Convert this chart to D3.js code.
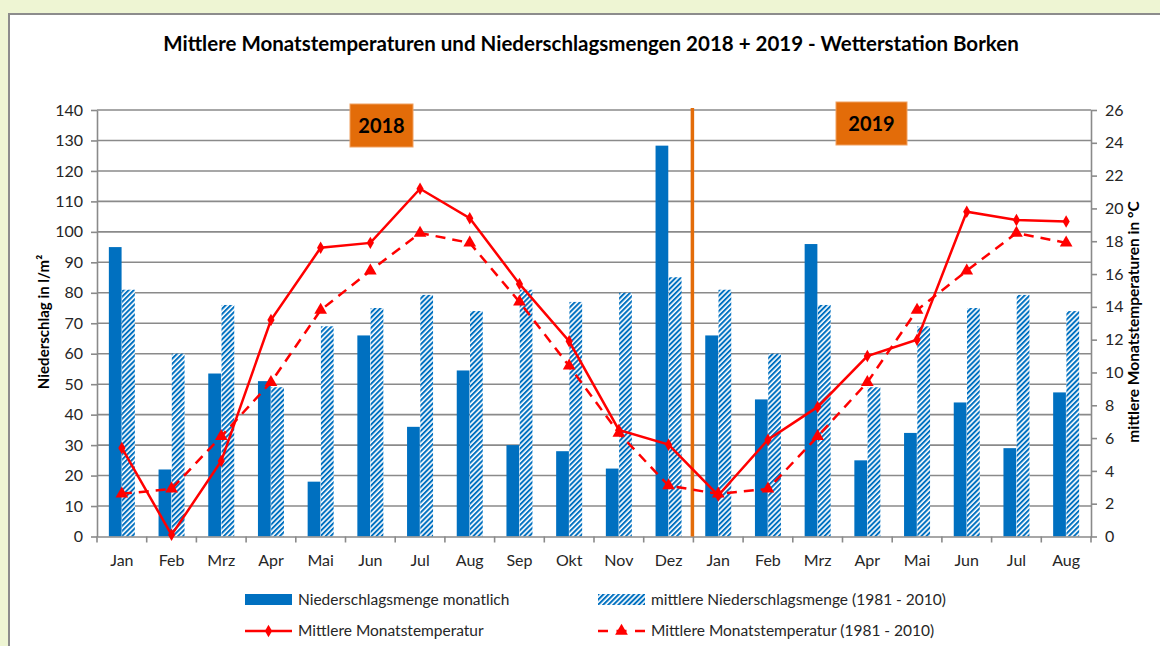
<!DOCTYPE html>
<html>
<head>
<meta charset="utf-8">
<script src="https://cdn.jsdelivr.net/npm/d3@7"></script>
<style>
  body { margin: 0; background: #eef5d3; }
  svg { display: block; font-family: Lato, "Open Sans", sans-serif; }
</style>
</head>
<body>
<svg id="chart"></svg>
<script>
// Monate (Jan 2018 - Aug 2019)
const months = ["Jan", "Feb", "Mrz", "Apr", "Mai", "Jun", "Jul", "Aug", "Sep", "Okt", "Nov", "Dez",
  "Jan", "Feb", "Mrz", "Apr", "Mai", "Jun", "Jul", "Aug"];

// Niederschlag l/m²
const precip = [95, 22, 53.5, 51, 18, 66, 36, 54.5, 30, 28, 22.3, 128.3,
  66, 45, 96, 25, 34, 44, 29, 47.3];
const precipAvg = [81, 60, 76, 49, 69, 75, 79.3, 74, 81, 77, 80, 85.1,
  81, 60, 76, 49, 69, 75, 79.3, 74];

// Temperaturen °C
const temp = [5.4, 0.1, 4.6, 13.2, 17.6, 17.9, 21.2, 19.4, 15.4, 11.9, 6.5, 5.6,
  2.5, 5.9, 7.9, 11.0, 12.0, 19.8, 19.3, 19.2];
const tempAvg = [2.6, 2.9, 6.1, 9.4, 13.8, 16.2, 18.5, 17.9, 14.3, 10.4, 6.3, 3.1,
  2.6, 2.9, 6.1, 9.4, 13.8, 16.2, 18.5, 17.9];

const leftTicks = d3.range(0, 141, 10);
const rightTicks = d3.range(0, 27, 2);

const width = 1160, height = 646;

const svg = d3.select("#chart").attr("width", width).attr("height", height);

// white chart area
svg.append("rect")
  .attr("x", 9).attr("y", 14)
  .attr("width", width + 10).attr("height", height)
  .attr("fill", "#fff")
  .attr("stroke", "#8c8c8c")
  .attr("stroke-width", 2);

// hatch pattern
const defs = svg.append("defs");
const pat = defs.append("pattern")
  .attr("id", "hatch")
  .attr("patternUnits", "userSpaceOnUse")
  .attr("width", 3.6).attr("height", 3.6)
  .attr("patternTransform", "rotate(45)");
pat.append("rect").attr("width", 3.6).attr("height", 3.6).attr("fill", "#fff");
pat.append("rect").attr("width", 2).attr("height", 3.6).attr("fill", "#0070c0");

const x0 = 97, x1 = 1091, yTop = 110, yBot = 536.5;
const idx = months.map((m, i) => i);

const x = d3.scaleBand().domain(idx).range([x0, x1]);
const xInner = d3.scaleBand().domain(["a", "b"]).range([x.bandwidth() / 2 - 13, x.bandwidth() / 2 + 13]).paddingInner(0.04);
const yL = d3.scaleLinear().domain([0, 140]).range([yBot, yTop]);
const yR = d3.scaleLinear().domain([0, 26]).range([yBot, yTop]);

// gridlines
svg.append("g")
  .selectAll("line")
  .data(leftTicks.slice(1))
  .join("line")
  .attr("x1", x0).attr("x2", x1)
  .attr("y1", d => yL(d)).attr("y2", d => yL(d))
  .attr("stroke", "#8a8a8a").attr("stroke-width", 1.6);

// bars
svg.append("g").selectAll("rect")
  .data(idx)
  .join("rect")
  .attr("x", i => x(i) + xInner("a"))
  .attr("y", i => yL(precip[i]))
  .attr("width", xInner.bandwidth())
  .attr("height", i => yBot - yL(precip[i]))
  .attr("fill", "#0070c0");

svg.append("g").selectAll("rect")
  .data(idx)
  .join("rect")
  .attr("x", i => x(i) + xInner("b"))
  .attr("y", i => yL(precipAvg[i]))
  .attr("width", xInner.bandwidth())
  .attr("height", i => yBot - yL(precipAvg[i]))
  .attr("fill", "url(#hatch)");

// axes
const axisStyle = g => {
  g.selectAll(".domain").attr("stroke", "#8a8a8a").attr("stroke-width", 1.6);
  g.selectAll(".tick line").attr("stroke", "#8a8a8a").attr("stroke-width", 1.6);
  g.selectAll("text").attr("fill", "#262626").style("font-size", "16px").style("font-family", "Lato, sans-serif");
};

svg.append("g")
  .attr("transform", `translate(${x0},0)`)
  .call(d3.axisLeft(yL).tickValues(leftTicks).tickSize(6).tickPadding(8).tickSizeOuter(0))
  .call(axisStyle);

svg.append("g")
  .attr("transform", `translate(${x1},0)`)
  .call(d3.axisRight(yR).tickValues(rightTicks).tickSize(6).tickPadding(8).tickSizeOuter(0))
  .call(axisStyle);

const xAxis = svg.append("g")
  .attr("transform", `translate(0,${yBot})`)
  .call(d3.axisBottom(x).tickFormat(i => months[i]).tickSize(0).tickPadding(18).tickSizeOuter(0))
  .call(axisStyle);
// tick marks at category boundaries
xAxis.append("g").selectAll("line")
  .data(d3.range(0, months.length + 1))
  .join("line")
  .attr("x1", i => x0 + i * x.step()).attr("x2", i => x0 + i * x.step())
  .attr("y1", 0).attr("y2", 6)
  .attr("stroke", "#8a8a8a").attr("stroke-width", 1.6);

// year separator
svg.append("line")
  .attr("x1", x(12) - 1).attr("x2", x(12) - 1)
  .attr("y1", 108).attr("y2", yBot)
  .attr("stroke", "#e36c09").attr("stroke-width", 3.5);

// lines
const cx = i => x(i) + x.bandwidth() / 2;
const line = d3.line().x((d, i) => cx(i)).y(d => yR(d));

svg.append("path")
  .datum(tempAvg)
  .attr("d", line)
  .attr("fill", "none")
  .attr("stroke", "#ff0000")
  .attr("stroke-width", 2.5)
  .attr("stroke-dasharray", "10,7");

svg.append("path")
  .datum(temp)
  .attr("d", line)
  .attr("fill", "none")
  .attr("stroke", "#ff0000")
  .attr("stroke-width", 2.5);

const tri = d3.symbol().type(d3.symbolTriangle).size(70);
const dia = d3.symbol().type(d3.symbolDiamond).size(45);

svg.append("g").selectAll("path")
  .data(tempAvg)
  .join("path")
  .attr("d", tri)
  .attr("transform", (d, i) => `translate(${cx(i)},${yR(d)})`)
  .attr("fill", "#ff0000");

svg.append("g").selectAll("path")
  .data(temp)
  .join("path")
  .attr("d", dia)
  .attr("transform", (d, i) => `translate(${cx(i)},${yR(d)})`)
  .attr("fill", "#ff0000");

// year boxes
const years = [{ label: "2018", x: 350, y: 104, w: 63 }, { label: "2019", x: 836, y: 102, w: 71 }];
years.forEach(b => {
  svg.append("rect")
    .attr("x", b.x).attr("y", b.y).attr("width", b.w).attr("height", 43)
    .attr("fill", "#e36c09").attr("stroke", "#f0a060").attr("stroke-width", 1);
  svg.append("text")
    .attr("x", b.x + b.w / 2).attr("y", b.y + 29)
    .attr("text-anchor", "middle")
    .style("font-size", "20px").style("font-weight", "bold")
    .attr("fill", "#000")
    .text(b.label);
});

// title
svg.append("text")
  .attr("x", 591).attr("y", 51)
  .attr("text-anchor", "middle")
  .style("font-size", "20.5px").style("font-weight", "bold")
  .attr("fill", "#000")
  .text("Mittlere Monatstemperaturen und Niederschlagsmengen 2018 + 2019 - Wetterstation Borken");

// axis titles
svg.append("text")
  .attr("transform", `translate(49,322) rotate(-90)`)
  .attr("text-anchor", "middle")
  .style("font-size", "15px").style("font-weight", "bold")
  .text("Niederschlag in l/m²");

svg.append("text")
  .attr("transform", `translate(1139,322) rotate(-90)`)
  .attr("text-anchor", "middle")
  .style("font-size", "15.5px").style("font-weight", "bold")
  .text("mittlere Monatstemperaturen in °C");

// legend
const legend = svg.append("g").style("font-size", "15.5px").attr("fill", "#262626");
legend.append("rect").attr("x", 245).attr("y", 594).attr("width", 47).attr("height", 11).attr("fill", "#0070c0");
legend.append("text").attr("x", 298).attr("y", 605).text("Niederschlagsmenge monatlich");
legend.append("rect").attr("x", 598).attr("y", 594).attr("width", 47).attr("height", 11).attr("fill", "url(#hatch)");
legend.append("text").attr("x", 651).attr("y", 605).text("mittlere Niederschlagsmenge (1981 - 2010)");

legend.append("line").attr("x1", 245).attr("x2", 292).attr("y1", 631).attr("y2", 631)
  .attr("stroke", "#ff0000").attr("stroke-width", 2.5);
legend.append("path").attr("d", dia).attr("transform", "translate(268.5,631)").attr("fill", "#ff0000");
legend.append("text").attr("x", 298).attr("y", 636).text("Mittlere Monatstemperatur");

legend.append("line").attr("x1", 598).attr("x2", 645).attr("y1", 631).attr("y2", 631)
  .attr("stroke", "#ff0000").attr("stroke-width", 2.5).attr("stroke-dasharray", "10,8.5");
legend.append("path").attr("d", tri).attr("transform", "translate(621.5,631)").attr("fill", "#ff0000");
legend.append("text").attr("x", 651).attr("y", 636).text("Mittlere Monatstemperatur (1981 - 2010)");
</script>
</body>
</html>
